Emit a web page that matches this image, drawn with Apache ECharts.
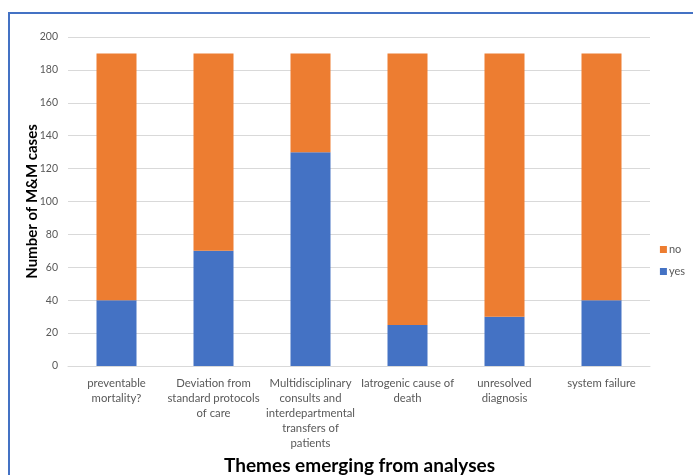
<!DOCTYPE html>
<html><head><meta charset="utf-8">
<script src="https://cdn.jsdelivr.net/npm/echarts@6/dist/echarts.min.js"></script>
<style>html,body{margin:0;padding:0;background:#fff}#c{width:693px;height:475px}</style>
</head><body><div id="c"></div>
<script>
const categories = [
  "preventable\nmortality?",
  "Deviation from\nstandard protocols\nof care",
  "Multidisciplinary\nconsults and\ninterdepartmental\ntransfers of\npatients",
  "Iatrogenic cause of\ndeath",
  "unresolved\ndiagnosis",
  "system failure"
];
const yesValues = [40, 70, 130, 25, 30, 40];
const noValues = [150, 120, 60, 165, 160, 150];
const yTicks = {min: 0, max: 200, interval: 20};

const chart = echarts.init(document.getElementById('c'));
const font = 'Lato, "Open Sans", sans-serif';
chart.setOption({
  animation: false,
  textStyle: {fontFamily: font},
  title: {
    text: 'Themes emerging from analyses',
    left: 219, top: 451,
    textStyle: {fontFamily: font, fontSize: 19, fontWeight: 'bold', color: '#000'}
  },
  graphic: [{
    type: 'rect', shape: {x: 9, y: 13, width: 700, height: 480},
    style: {fill: 'none', stroke: '#4472C4', lineWidth: 2}, silent: true
  }],
  legend: {
    orient: 'vertical', right: 3, top: 239,
    itemWidth: 7, itemHeight: 7, itemGap: 11,
    data: ['no', 'yes'],
    textStyle: {fontFamily: font, fontSize: 11, color: '#595959', padding: [0,0,0,-3]},
    icon: 'rect'
  },
  grid: {left: 68, right: 43, top: 37, bottom: 109},
  xAxis: {
    type: 'category', data: categories,
    axisLine: {lineStyle: {color: '#D9D9D9'}},
    axisTick: {show: false},
    axisLabel: {color: '#595959', fontSize: 11.3, lineHeight: 15, interval: 0, margin: 10, fontFamily: font}
  },
  yAxis: {
    type: 'value', min: yTicks.min, max: yTicks.max, interval: yTicks.interval,
    name: 'Number of M&M cases', nameLocation: 'middle', nameGap: 28, nameMoveOverlap: false,
    nameTextStyle: {fontFamily: font, fontSize: 15, fontWeight: 'bold', color: '#000'},
    axisLine: {show: false}, axisTick: {show: false},
    axisLabel: {color: '#595959', fontSize: 10.5, margin: 10, fontFamily: font},
    splitLine: {lineStyle: {color: '#D9D9D9'}}
  },
  series: [
    {name: 'yes', type: 'bar', stack: 'a', data: yesValues, barWidth: 40, itemStyle: {color: '#4472C4'}},
    {name: 'no', type: 'bar', stack: 'a', data: noValues, barWidth: 40, itemStyle: {color: '#ED7D31'}}
  ]
});
</script></body></html>
